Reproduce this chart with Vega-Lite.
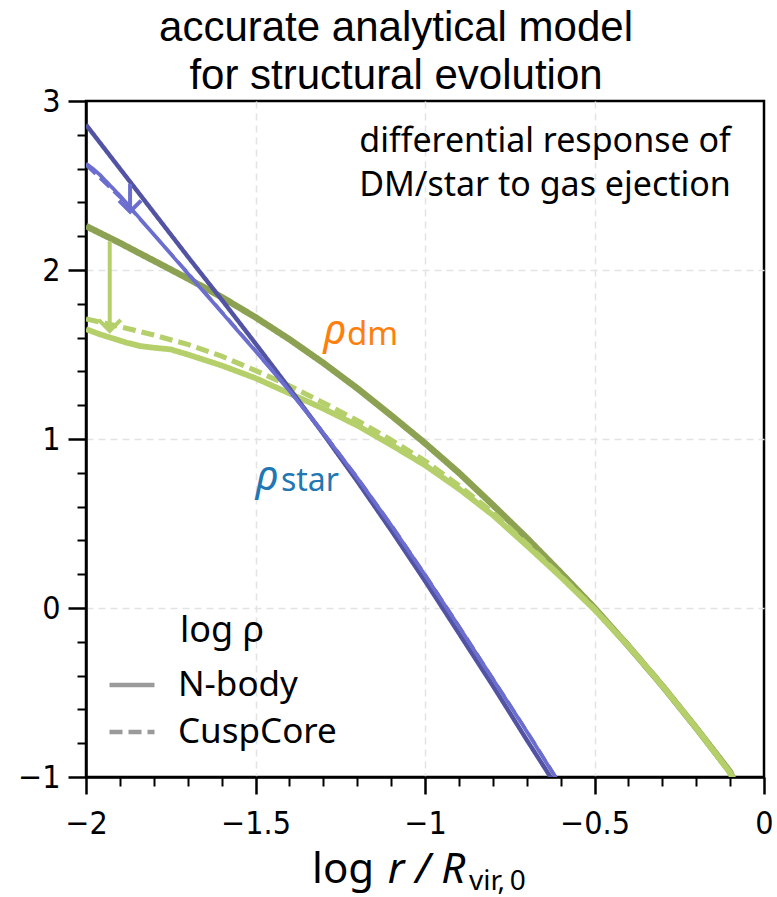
{
  "$schema": "https://vega.github.io/schema/vega-lite/v6.json",
  "width": 678,
  "height": 676,
  "autosize": {"type": "none"},
  "padding": {"left": 86, "top": 101, "right": 13, "bottom": 120},
  "background": "white",
  "title": {
    "text": ["accurate analytical model", "for structural evolution"],
    "font": "Liberation Sans",
    "fontSize": 42,
    "fontWeight": "normal",
    "lineHeight": 48,
    "anchor": "middle",
    "dx": -29,
    "dy": 60,
    "offset": 5,
    "baseline": "bottom",
    "color": "black"
  },
  "config": {
    "font": "Noto Sans",
    "view": {"stroke": "black", "strokeWidth": 2.5}
  },
  "datasets": {
    "curves": [
      {"series": "dm_init", "method": "initial", "x": -2.0, "y": 2.26},
      {"series": "dm_init", "method": "initial", "x": -1.9, "y": 2.16},
      {"series": "dm_init", "method": "initial", "x": -1.8, "y": 2.055},
      {"series": "dm_init", "method": "initial", "x": -1.7, "y": 1.95},
      {"series": "dm_init", "method": "initial", "x": -1.6, "y": 1.84},
      {"series": "dm_init", "method": "initial", "x": -1.5, "y": 1.72},
      {"series": "dm_init", "method": "initial", "x": -1.4, "y": 1.59},
      {"series": "dm_init", "method": "initial", "x": -1.3, "y": 1.45},
      {"series": "dm_init", "method": "initial", "x": -1.2, "y": 1.3},
      {"series": "dm_init", "method": "initial", "x": -1.1, "y": 1.14},
      {"series": "dm_init", "method": "initial", "x": -1.0, "y": 0.975},
      {"series": "dm_init", "method": "initial", "x": -0.9, "y": 0.8},
      {"series": "dm_init", "method": "initial", "x": -0.8, "y": 0.61},
      {"series": "dm_init", "method": "initial", "x": -0.7, "y": 0.415},
      {"series": "dm_init", "method": "initial", "x": -0.6, "y": 0.21},
      {"series": "dm_init", "method": "initial", "x": -0.5, "y": 0.0},
      {"series": "dm_init", "method": "initial", "x": -0.4, "y": -0.225},
      {"series": "dm_init", "method": "initial", "x": -0.3, "y": -0.46},
      {"series": "dm_init", "method": "initial", "x": -0.2, "y": -0.71},
      {"series": "dm_init", "method": "initial", "x": -0.1, "y": -0.97},
      {"series": "dm_init", "method": "initial", "x": -0.085, "y": -1.04},

      {"series": "dm_nbody", "method": "N-body", "x": -2.0, "y": 1.65},
      {"series": "dm_nbody", "method": "N-body", "x": -1.96, "y": 1.62},
      {"series": "dm_nbody", "method": "N-body", "x": -1.92, "y": 1.595},
      {"series": "dm_nbody", "method": "N-body", "x": -1.88, "y": 1.57},
      {"series": "dm_nbody", "method": "N-body", "x": -1.84, "y": 1.55},
      {"series": "dm_nbody", "method": "N-body", "x": -1.8, "y": 1.54},
      {"series": "dm_nbody", "method": "N-body", "x": -1.75, "y": 1.53},
      {"series": "dm_nbody", "method": "N-body", "x": -1.7, "y": 1.5},
      {"series": "dm_nbody", "method": "N-body", "x": -1.6, "y": 1.435},
      {"series": "dm_nbody", "method": "N-body", "x": -1.5, "y": 1.36},
      {"series": "dm_nbody", "method": "N-body", "x": -1.4, "y": 1.27},
      {"series": "dm_nbody", "method": "N-body", "x": -1.3, "y": 1.18},
      {"series": "dm_nbody", "method": "N-body", "x": -1.2, "y": 1.08},
      {"series": "dm_nbody", "method": "N-body", "x": -1.1, "y": 0.965},
      {"series": "dm_nbody", "method": "N-body", "x": -1.0, "y": 0.845},
      {"series": "dm_nbody", "method": "N-body", "x": -0.9, "y": 0.705},
      {"series": "dm_nbody", "method": "N-body", "x": -0.8, "y": 0.55},
      {"series": "dm_nbody", "method": "N-body", "x": -0.7, "y": 0.37},
      {"series": "dm_nbody", "method": "N-body", "x": -0.6, "y": 0.185},
      {"series": "dm_nbody", "method": "N-body", "x": -0.5, "y": -0.01},
      {"series": "dm_nbody", "method": "N-body", "x": -0.4, "y": -0.225},
      {"series": "dm_nbody", "method": "N-body", "x": -0.3, "y": -0.46},
      {"series": "dm_nbody", "method": "N-body", "x": -0.2, "y": -0.71},
      {"series": "dm_nbody", "method": "N-body", "x": -0.1, "y": -0.975},
      {"series": "dm_nbody", "method": "N-body", "x": -0.083, "y": -1.04},

      {"series": "dm_cc", "method": "CuspCore", "x": -2.0, "y": 1.71},
      {"series": "dm_cc", "method": "CuspCore", "x": -1.9, "y": 1.665},
      {"series": "dm_cc", "method": "CuspCore", "x": -1.8, "y": 1.615},
      {"series": "dm_cc", "method": "CuspCore", "x": -1.7, "y": 1.56},
      {"series": "dm_cc", "method": "CuspCore", "x": -1.6, "y": 1.49},
      {"series": "dm_cc", "method": "CuspCore", "x": -1.5, "y": 1.405},
      {"series": "dm_cc", "method": "CuspCore", "x": -1.4, "y": 1.315},
      {"series": "dm_cc", "method": "CuspCore", "x": -1.3, "y": 1.215},
      {"series": "dm_cc", "method": "CuspCore", "x": -1.2, "y": 1.11},
      {"series": "dm_cc", "method": "CuspCore", "x": -1.1, "y": 0.995},
      {"series": "dm_cc", "method": "CuspCore", "x": -1.0, "y": 0.87},
      {"series": "dm_cc", "method": "CuspCore", "x": -0.9, "y": 0.725},
      {"series": "dm_cc", "method": "CuspCore", "x": -0.8, "y": 0.565},
      {"series": "dm_cc", "method": "CuspCore", "x": -0.7, "y": 0.38},
      {"series": "dm_cc", "method": "CuspCore", "x": -0.6, "y": 0.19},
      {"series": "dm_cc", "method": "CuspCore", "x": -0.5, "y": -0.005},
      {"series": "dm_cc", "method": "CuspCore", "x": -0.4, "y": -0.225},
      {"series": "dm_cc", "method": "CuspCore", "x": -0.3, "y": -0.46},
      {"series": "dm_cc", "method": "CuspCore", "x": -0.2, "y": -0.71},
      {"series": "dm_cc", "method": "CuspCore", "x": -0.1, "y": -0.975},
      {"series": "dm_cc", "method": "CuspCore", "x": -0.083, "y": -1.04},

      {"series": "star_init", "method": "initial", "x": -2.0, "y": 2.86},
      {"series": "star_init", "method": "initial", "x": -1.9, "y": 2.6},
      {"series": "star_init", "method": "initial", "x": -1.8, "y": 2.34},
      {"series": "star_init", "method": "initial", "x": -1.7, "y": 2.08},
      {"series": "star_init", "method": "initial", "x": -1.6, "y": 1.825},
      {"series": "star_init", "method": "initial", "x": -1.5, "y": 1.565},
      {"series": "star_init", "method": "initial", "x": -1.4, "y": 1.3},
      {"series": "star_init", "method": "initial", "x": -1.3, "y": 1.03},
      {"series": "star_init", "method": "initial", "x": -1.2, "y": 0.75},
      {"series": "star_init", "method": "initial", "x": -1.1, "y": 0.46},
      {"series": "star_init", "method": "initial", "x": -1.0, "y": 0.16},
      {"series": "star_init", "method": "initial", "x": -0.9, "y": -0.15},
      {"series": "star_init", "method": "initial", "x": -0.8, "y": -0.46},
      {"series": "star_init", "method": "initial", "x": -0.7, "y": -0.78},
      {"series": "star_init", "method": "initial", "x": -0.617, "y": -1.04},

      {"series": "star_nbody", "method": "N-body", "x": -2.0, "y": 2.63},
      {"series": "star_nbody", "method": "N-body", "x": -1.98, "y": 2.6},
      {"series": "star_nbody", "method": "N-body", "x": -1.96, "y": 2.565},
      {"series": "star_nbody", "method": "N-body", "x": -1.9, "y": 2.44},
      {"series": "star_nbody", "method": "N-body", "x": -1.8, "y": 2.21},
      {"series": "star_nbody", "method": "N-body", "x": -1.7, "y": 1.98},
      {"series": "star_nbody", "method": "N-body", "x": -1.6, "y": 1.75},
      {"series": "star_nbody", "method": "N-body", "x": -1.5, "y": 1.52},
      {"series": "star_nbody", "method": "N-body", "x": -1.4, "y": 1.285},
      {"series": "star_nbody", "method": "N-body", "x": -1.3, "y": 1.035},
      {"series": "star_nbody", "method": "N-body", "x": -1.2, "y": 0.77},
      {"series": "star_nbody", "method": "N-body", "x": -1.1, "y": 0.49},
      {"series": "star_nbody", "method": "N-body", "x": -1.0, "y": 0.195},
      {"series": "star_nbody", "method": "N-body", "x": -0.9, "y": -0.11},
      {"series": "star_nbody", "method": "N-body", "x": -0.8, "y": -0.42},
      {"series": "star_nbody", "method": "N-body", "x": -0.7, "y": -0.73},
      {"series": "star_nbody", "method": "N-body", "x": -0.603, "y": -1.04},

      {"series": "star_cc", "method": "CuspCore", "x": -2.0, "y": 2.62},
      {"series": "star_cc", "method": "CuspCore", "x": -1.9, "y": 2.43},
      {"series": "star_cc", "method": "CuspCore", "x": -1.8, "y": 2.21},
      {"series": "star_cc", "method": "CuspCore", "x": -1.7, "y": 1.985},
      {"series": "star_cc", "method": "CuspCore", "x": -1.6, "y": 1.755},
      {"series": "star_cc", "method": "CuspCore", "x": -1.5, "y": 1.525},
      {"series": "star_cc", "method": "CuspCore", "x": -1.4, "y": 1.29},
      {"series": "star_cc", "method": "CuspCore", "x": -1.3, "y": 1.04},
      {"series": "star_cc", "method": "CuspCore", "x": -1.2, "y": 0.775},
      {"series": "star_cc", "method": "CuspCore", "x": -1.1, "y": 0.495},
      {"series": "star_cc", "method": "CuspCore", "x": -1.0, "y": 0.2},
      {"series": "star_cc", "method": "CuspCore", "x": -0.9, "y": -0.105},
      {"series": "star_cc", "method": "CuspCore", "x": -0.8, "y": -0.415},
      {"series": "star_cc", "method": "CuspCore", "x": -0.7, "y": -0.725},
      {"series": "star_cc", "method": "CuspCore", "x": -0.601, "y": -1.04}
    ],
    "arrows": [
      {"series": "dm_nbody", "x": -1.93, "y": 2.17, "y2": 1.64},
      {"series": "star_nbody", "x": -1.87, "y": 2.51, "y2": 2.345}
    ],
    "labels": [
      {"kind": "note", "x": -0.646, "y": 2.7, "text": "differential response of"},
      {"kind": "note", "x": -0.646, "y": 2.44, "text": "DM/star to gas ejection"},
      {"kind": "rho_dm", "x": -1.3, "y": 1.565, "text": "ρ"},
      {"kind": "sub_dm", "x": -1.23, "y": 1.555, "text": "dm"},
      {"kind": "rho_star", "x": -1.5, "y": 0.7, "text": "ρ"},
      {"kind": "sub_star", "x": -1.425, "y": 0.69, "text": "star"},
      {"kind": "xt", "x": -1.333, "y": -1.627, "text": "log"},
      {"kind": "xt_it", "x": -1.11, "y": -1.627, "text": "r / R"},
      {"kind": "xt_sub", "x": -0.87, "y": -1.668, "text": "vir,\u20090"}
    ]
  },
  "resolve": {"axis": {"x": "independent", "y": "independent"}},
  "layer": [
    {
      "data": {"name": "curves"},
      "mark": {"type": "line", "clip": true, "strokeCap": "butt"},
      "encoding": {
        "x": {
          "field": "x", "type": "quantitative",
          "scale": {"domain": [-2, 0], "nice": false, "zero": false},
          "axis": {
            "orient": "bottom", "title": null,
            "values": [-2, -1.5, -1, -0.5, 0],
            "labelExpr": "replace(format(datum.value, '~g'), '-', '\u2212')",
            "labelFont": "DejaVu Sans Condensed", "labelFontSize": 32, "labelColor": "black",
            "labelPadding": 14, "labelFlush": false, "labelOverlap": false,
            "tickSize": 17, "tickWidth": 2.5, "tickColor": "black",
            "domain": true, "domainColor": "black", "domainWidth": 2.5,
            "grid": false
          }
        },
        "y": {
          "field": "y", "type": "quantitative",
          "scale": {"domain": [-1, 3], "nice": false, "zero": false},
          "axis": {
            "orient": "left", "title": null,
            "values": [-1, 0, 1, 2, 3],
            "labelExpr": "replace(format(datum.value, '~g'), '-', '\u2212')",
            "labelFont": "DejaVu Sans Condensed", "labelFontSize": 32, "labelColor": "black",
            "labelPadding": 8, "labelFlush": false, "labelOverlap": false,
            "tickSize": 18, "tickWidth": 2.5, "tickColor": "black",
            "domain": true, "domainColor": "black", "domainWidth": 2.5,
            "grid": false
          }
        },
        "color": {
          "field": "series", "type": "nominal", "legend": null,
          "scale": {
            "domain": ["dm_init", "dm_nbody", "dm_cc", "star_init", "star_nbody", "star_cc"],
            "range": ["#8ca252", "#b5cf6b", "#b5cf6b", "#5254a3", "#6b6ecf", "#6b6ecf"]
          }
        },
        "strokeWidth": {
          "field": "series", "type": "nominal", "legend": null,
          "scale": {
            "domain": ["dm_init", "dm_nbody", "dm_cc", "star_init", "star_nbody", "star_cc"],
            "range": [6.5, 3, 4, 6.5, 3.5, 3.5]
          }
        },
        "strokeDash": {
          "field": "method", "type": "nominal",
          "scale": {"domain": ["initial", "N-body", "CuspCore"], "range": [[1, 0], [1, 0], [13, 6]]},
          "legend": {
            "values": ["N-body", "CuspCore"],
            "orient": "none", "legendX": 21, "legendY": 513,
            "title": "log ρ", "titleFont": "Noto Sans", "titleFontSize": 36, "titleFontWeight": "normal",
            "titleColor": "black", "titleAnchor": "middle", "titlePadding": 10, "titleLimit": 400,
            "labelFont": "Noto Sans", "labelFontSize": 35, "labelColor": "black", "labelOffset": 21, "labelLimit": 400,
            "symbolType": "stroke", "symbolSize": 2025, "symbolStrokeWidth": 4.5,
            "symbolStrokeColor": "#9a9a9a", "rowPadding": 4, "padding": 0
          }
        },
        "detail": {"field": "series"}
      }
    },
    {
      "data": {"name": "arrows"},
      "mark": {"type": "rule", "strokeWidth": 4},
      "encoding": {
        "x": {
          "field": "x", "type": "quantitative",
          "axis": {
            "orient": "bottom", "title": null, "labels": false, "domain": false, "grid": false,
            "values": [-1.9, -1.8, -1.7, -1.6, -1.4, -1.3, -1.2, -1.1, -0.9, -0.8, -0.7, -0.6, -0.4, -0.3, -0.2, -0.1],
            "tickSize": 9, "tickWidth": 2, "tickColor": "black"
          }
        },
        "y": {
          "field": "y", "type": "quantitative",
          "axis": {
            "orient": "left", "title": null, "labels": false, "domain": false, "grid": false,
            "values": [-0.8, -0.6, -0.4, -0.2, 0.2, 0.4, 0.6, 0.8, 1.2, 1.4, 1.6, 1.8, 2.2, 2.4, 2.6, 2.8],
            "tickSize": 9, "tickWidth": 2, "tickColor": "black"
          }
        },
        "y2": {"field": "y2"},
        "color": {"field": "series", "type": "nominal", "legend": null}
      }
    },
    {
      "data": {"name": "arrows"},
      "mark": {"type": "point", "shape": "M-1,-1L0,0L1,-1", "filled": false, "size": 484, "strokeWidth": 4, "opacity": 1},
      "encoding": {
        "x": {
          "field": "x", "type": "quantitative",
          "axis": {
            "orient": "bottom", "title": null, "labels": false, "domain": false, "ticks": false,
            "values": [-1.5, -1, -0.5],
            "grid": true, "gridColor": "#e3e3e3", "gridWidth": 1.5, "gridDash": [7, 5]
          }
        },
        "y": {
          "field": "y2", "type": "quantitative",
          "axis": {
            "orient": "left", "title": null, "labels": false, "domain": false, "ticks": false,
            "values": [0, 1, 2],
            "grid": true, "gridColor": "#e3e3e3", "gridWidth": 1.5, "gridDash": [7, 5]
          }
        },
        "color": {"field": "series", "type": "nominal", "legend": null}
      }
    },
    {
      "data": {"name": "labels"},
      "transform": [{"filter": "datum.kind === 'note'"}],
      "mark": {"type": "text", "align": "center", "baseline": "alphabetic", "font": "Noto Sans", "fontSize": 34, "color": "black"},
      "encoding": {
        "x": {"field": "x", "type": "quantitative", "axis": null},
        "y": {"field": "y", "type": "quantitative", "axis": null},
        "text": {"field": "text"}
      }
    },
    {
      "data": {"name": "labels"},
      "transform": [{"filter": "datum.kind === 'rho_dm'"}],
      "mark": {"type": "text", "align": "left", "baseline": "alphabetic", "font": "Noto Sans", "fontStyle": "italic", "fontSize": 42, "color": "#ff7f0e"},
      "encoding": {
        "x": {"field": "x", "type": "quantitative", "axis": null},
        "y": {"field": "y", "type": "quantitative", "axis": null},
        "text": {"field": "text"}
      }
    },
    {
      "data": {"name": "labels"},
      "transform": [{"filter": "datum.kind === 'sub_dm'"}],
      "mark": {"type": "text", "align": "left", "baseline": "alphabetic", "font": "Noto Sans", "fontSize": 33, "color": "#ff7f0e"},
      "encoding": {
        "x": {"field": "x", "type": "quantitative", "axis": null},
        "y": {"field": "y", "type": "quantitative", "axis": null},
        "text": {"field": "text"}
      }
    },
    {
      "data": {"name": "labels"},
      "transform": [{"filter": "datum.kind === 'rho_star'"}],
      "mark": {"type": "text", "align": "left", "baseline": "alphabetic", "font": "Noto Sans", "fontStyle": "italic", "fontSize": 42, "color": "#1f77b4"},
      "encoding": {
        "x": {"field": "x", "type": "quantitative", "axis": null},
        "y": {"field": "y", "type": "quantitative", "axis": null},
        "text": {"field": "text"}
      }
    },
    {
      "data": {"name": "labels"},
      "transform": [{"filter": "datum.kind === 'sub_star'"}],
      "mark": {"type": "text", "align": "left", "baseline": "alphabetic", "font": "Noto Sans", "fontSize": 32, "color": "#1f77b4"},
      "encoding": {
        "x": {"field": "x", "type": "quantitative", "axis": null},
        "y": {"field": "y", "type": "quantitative", "axis": null},
        "text": {"field": "text"}
      }
    },
    {
      "data": {"name": "labels"},
      "transform": [{"filter": "datum.kind === 'xt'"}],
      "mark": {"type": "text", "align": "left", "baseline": "alphabetic", "font": "Noto Sans", "fontSize": 42, "color": "black"},
      "encoding": {
        "x": {"field": "x", "type": "quantitative", "axis": null},
        "y": {"field": "y", "type": "quantitative", "axis": null},
        "text": {"field": "text"}
      }
    },
    {
      "data": {"name": "labels"},
      "transform": [{"filter": "datum.kind === 'xt_it'"}],
      "mark": {"type": "text", "align": "left", "baseline": "alphabetic", "font": "Noto Sans", "fontStyle": "italic", "fontSize": 42, "color": "black"},
      "encoding": {
        "x": {"field": "x", "type": "quantitative", "axis": null},
        "y": {"field": "y", "type": "quantitative", "axis": null},
        "text": {"field": "text"}
      }
    },
    {
      "data": {"name": "labels"},
      "transform": [{"filter": "datum.kind === 'xt_sub'"}],
      "mark": {"type": "text", "align": "left", "baseline": "alphabetic", "font": "Noto Sans", "fontSize": 28, "color": "black"},
      "encoding": {
        "x": {"field": "x", "type": "quantitative", "axis": null},
        "y": {"field": "y", "type": "quantitative", "axis": null},
        "text": {"field": "text"}
      }
    }
  ]
}
